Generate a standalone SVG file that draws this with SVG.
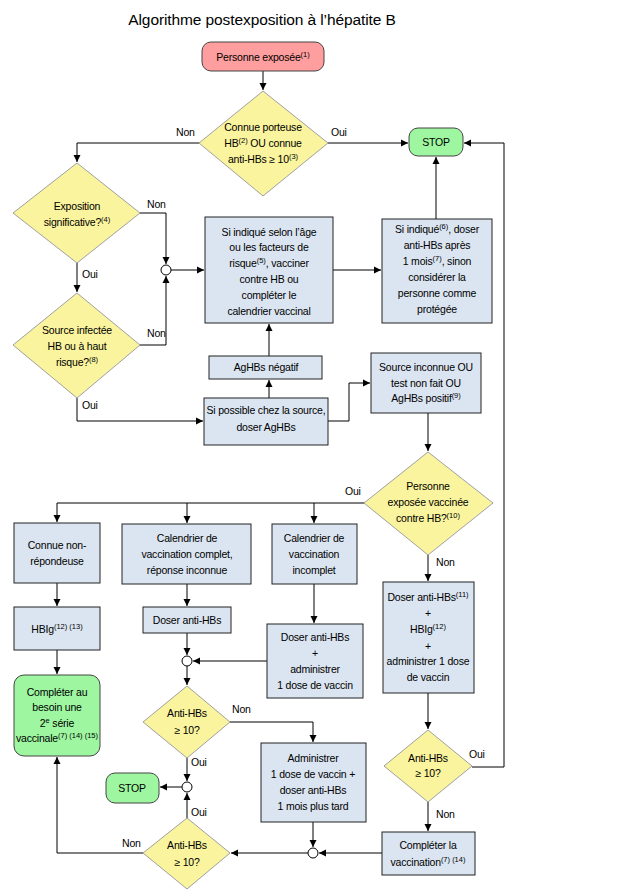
<svg xmlns="http://www.w3.org/2000/svg" width="617" height="896" viewBox="0 0 617 896">
<defs>
<marker id="ah" markerWidth="8" markerHeight="8" refX="7" refY="4" orient="auto" markerUnits="userSpaceOnUse">
<path d="M0,0.5 L7,4 L0,7.5 Z" fill="#000"/>
</marker>
<style>
text{font-family:"Liberation Sans",Arial,sans-serif;font-size:10.5px;letter-spacing:-0.2px;fill:#000;text-anchor:middle}
.title{font-size:15.5px;letter-spacing:-0.1px}
.lbl{text-anchor:start}
.box{fill:#dbe5f1;stroke:#222;stroke-width:1}
.dia{fill:#faf49e;stroke:#a0a0a0;stroke-width:1}
.pink{fill:#ff9e9e;stroke:#444;stroke-width:1}
.green{fill:#9ef7a0;stroke:#444;stroke-width:1}
.jn{fill:#fff;stroke:#000;stroke-width:1}
.c{fill:none;stroke:#000;stroke-width:1;marker-end:url(#ah)}
.cn{fill:none;stroke:#000;stroke-width:1}
.sup{font-size:7.5px;letter-spacing:0}
</style>
</defs>
<rect width="617" height="896" fill="#fff"/>
<text class="title" x="262" y="25">Algorithme postexposition à l’hépatite B</text>

<g id="connectors">
<path class="c" d="M263,71 V90"/>
<path class="c" d="M199,143 H77 V162"/>
<path class="c" d="M328,143 H408"/>
<path class="c" d="M472,767 H504 V143 H464"/>
<path class="c" d="M436,219 V157"/>
<path class="c" d="M140,213 H166 V264"/>
<path class="c" d="M77,263 V292"/>
<path class="c" d="M140,345 H166 V276"/>
<path class="c" d="M77,398 V421 H203"/>
<path class="c" d="M171,270 H204"/>
<path class="c" d="M333,270 H381"/>
<path class="c" d="M269,356 V324"/>
<path class="c" d="M269,398 V380"/>
<path class="c" d="M328,421 H349 V383 H370"/>
<path class="c" d="M428,413 V451"/>
<path class="cn" d="M364,503 H57"/>
<path class="c" d="M57,503 V522"/>
<path class="c" d="M187,503 V523"/>
<path class="c" d="M314,503 V523"/>
<path class="c" d="M57,583 V606"/>
<path class="c" d="M57,650 V674"/>
<path class="c" d="M187,584 V606"/>
<path class="c" d="M187,633 V655"/>
<path class="c" d="M314,584 V623"/>
<path class="c" d="M267,661 H193"/>
<path class="c" d="M187,666 V685"/>
<path class="c" d="M230,722 H313 V742"/>
<path class="c" d="M187,758 V781"/>
<path class="c" d="M182,787 H160"/>
<path class="c" d="M187,818 V793"/>
<path class="c" d="M143,853 H57 V757"/>
<path class="c" d="M313,822 V847"/>
<path class="c" d="M308,853 H231"/>
<path class="c" d="M382,853 H319"/>
<path class="c" d="M428,555 V581"/>
<path class="c" d="M428,693 V729"/>
<path class="c" d="M428,802 V831"/>
<text class="lbl" x="176" y="136">Non</text>
<text class="lbl" x="331" y="136">Oui</text>
<text class="lbl" x="147" y="208">Non</text>
<text class="lbl" x="82" y="278">Oui</text>
<text class="lbl" x="147" y="337">Non</text>
<text class="lbl" x="82" y="409">Oui</text>
<text class="lbl" x="345" y="495">Oui</text>
<text class="lbl" x="436" y="566">Non</text>
<text class="lbl" x="232" y="713">Non</text>
<text class="lbl" x="191" y="766">Oui</text>
<text class="lbl" x="191" y="816">Oui</text>
<text class="lbl" x="122" y="847">Non</text>
<text class="lbl" x="469" y="758">Oui</text>
<text class="lbl" x="436" y="818">Non</text>
</g>

<g id="n-start">
<rect class="pink" x="202" y="42" width="122" height="29" rx="9"/>
<text x="263" y="61">Personne exposée<tspan class="sup" dy="-4">(1)</tspan></text>
</g>
<g id="n-connue">
<polygon class="dia" points="263,91 328,143 263,196 199,143"/>
<text x="263" y="131">Connue porteuse</text>
<text x="263" y="147">HB<tspan class="sup" dy="-4">(2)</tspan><tspan dy="4"> OU connue</tspan></text>
<text x="263" y="163">anti-HBs ≥ 10<tspan class="sup" dy="-4">(3)</tspan></text>
</g>
<g id="n-stop1">
<rect class="green" x="409" y="128" width="54" height="28" rx="9"/>
<text x="436" y="146">STOP</text>
</g>
<g id="n-exposition">
<polygon class="dia" points="77,163 140,213 77,263 13,213"/>
<text x="77" y="210">Exposition</text>
<text x="77" y="226">significative?<tspan class="sup" dy="-4">(4)</tspan></text>
</g>
<g id="n-source">
<polygon class="dia" points="77,293 140,345 77,398 13,345"/>
<text x="77" y="334">Source infectée</text>
<text x="77" y="350">HB ou à haut</text>
<text x="77" y="366">risque?<tspan class="sup" dy="-4">(8)</tspan></text>
</g>
<g id="j1"><circle class="jn" cx="166" cy="270" r="5"/></g>
<g id="n-vacciner">
<rect class="box" x="205" y="217" width="128" height="106"/>
<text x="269" y="236">Si indiqué selon l’âge</text>
<text x="269" y="251">ou les facteurs de</text>
<text x="269" y="267">risque<tspan class="sup" dy="-4">(5)</tspan><tspan dy="4">, vacciner</tspan></text>
<text x="269" y="283">contre HB ou</text>
<text x="269" y="299">compléter le</text>
<text x="269" y="315">calendrier vaccinal</text>
</g>
<g id="n-siindique">
<rect class="box" x="382" y="219" width="110" height="104"/>
<text x="437" y="233">Si indiqué<tspan class="sup" dy="-4">(6)</tspan><tspan dy="4">, doser</tspan></text>
<text x="437" y="249">anti-HBs après</text>
<text x="437" y="265">1 mois<tspan class="sup" dy="-4">(7)</tspan><tspan dy="4">, sinon</tspan></text>
<text x="437" y="281">considérer la</text>
<text x="437" y="297">personne comme</text>
<text x="437" y="313">protégée</text>
</g>
<g id="n-negatif">
<rect class="box" x="209" y="356" width="113" height="23"/>
<text x="266" y="371">AgHBs négatif</text>
</g>
<g id="n-doseragh">
<rect class="box" x="204" y="398" width="124" height="47"/>
<text x="266" y="414">Si possible chez la source,</text>
<text x="266" y="431">doser AgHBs</text>
</g>
<g id="n-inconnue">
<rect class="box" x="371" y="353" width="110" height="60"/>
<text x="426" y="371">Source inconnue OU</text>
<text x="426" y="387">test non fait OU</text>
<text x="426" y="402">AgHBs positif<tspan class="sup" dy="-4">(9)</tspan></text>
</g>
<g id="n-vaccinee">
<polygon class="dia" points="428,452 493,503 428,555 364,503"/>
<text x="428" y="490">Personne</text>
<text x="428" y="506">exposée vaccinée</text>
<text x="428" y="522">contre HB?<tspan class="sup" dy="-4">(10)</tspan></text>
</g>
<g id="n-nonrep">
<rect class="box" x="14" y="523" width="86" height="60"/>
<text x="57" y="549">Connue non-</text>
<text x="57" y="565">répondeuse</text>
</g>
<g id="n-complet">
<rect class="box" x="122" y="524" width="129" height="60"/>
<text x="187" y="542">Calendrier de</text>
<text x="187" y="558">vaccination complet,</text>
<text x="187" y="574">réponse inconnue</text>
</g>
<g id="n-incomplet">
<rect class="box" x="272" y="524" width="85" height="60"/>
<text x="314" y="542">Calendrier de</text>
<text x="314" y="558">vaccination</text>
<text x="314" y="574">incomplet</text>
</g>
<g id="n-hbig">
<rect class="box" x="14" y="607" width="86" height="43"/>
<text x="57" y="633">HBIg<tspan class="sup" dy="-4">(12) (13)</tspan></text>
</g>
<g id="n-serie">
<rect class="green" x="14" y="675" width="86" height="81" rx="10"/>
<text x="57" y="696">Compléter au</text>
<text x="57" y="711">besoin une</text>
<text x="57" y="727">2<tspan class="sup" dy="-4">e</tspan><tspan dy="4"> série</tspan></text>
<text x="57" y="742">vaccinale<tspan class="sup" dy="-4">(7) (14) (15)</tspan></text>
</g>
<g id="n-doser1">
<rect class="box" x="143" y="607" width="88" height="26"/>
<text x="187" y="624">Doser anti-HBs</text>
</g>
<g id="n-doser2">
<rect class="box" x="267" y="624" width="96" height="74"/>
<text x="315" y="641">Doser anti-HBs</text>
<text x="315" y="657">+</text>
<text x="315" y="673">administrer</text>
<text x="315" y="689">1 dose de vaccin</text>
</g>
<g id="j2"><circle class="jn" cx="187" cy="661" r="5"/></g>
<g id="n-anti1">
<polygon class="dia" points="187,686 230,722 187,758 143,722"/>
<text x="187" y="717">Anti-HBs</text>
<text x="187" y="734">≥ 10?</text>
</g>
<g id="n-administrer">
<rect class="box" x="261" y="743" width="105" height="79"/>
<text x="313" y="762">Administrer</text>
<text x="313" y="778">1 dose de vaccin +</text>
<text x="313" y="794">doser anti-HBs</text>
<text x="313" y="810">1 mois plus tard</text>
</g>
<g id="j3"><circle class="jn" cx="187" cy="787" r="5"/></g>
<g id="n-stop2">
<rect class="green" x="106" y="773" width="53" height="30" rx="9"/>
<text x="132" y="792">STOP</text>
</g>
<g id="n-anti2">
<polygon class="dia" points="187,818 230,853 187,889 143,853"/>
<text x="187" y="849">Anti-HBs</text>
<text x="187" y="866">≥ 10?</text>
</g>
<g id="j4"><circle class="jn" cx="313" cy="853" r="5"/></g>
<g id="n-doser3">
<rect class="box" x="383" y="582" width="91" height="111"/>
<text x="428" y="601">Doser anti-HBs<tspan class="sup" dy="-4">(11)</tspan></text>
<text x="428" y="617">+</text>
<text x="428" y="633">HBIg<tspan class="sup" dy="-4">(12)</tspan></text>
<text x="428" y="650">+</text>
<text x="428" y="665">administrer 1 dose</text>
<text x="428" y="681">de vaccin</text>
</g>
<g id="n-anti3">
<polygon class="dia" points="428,730 472,766 428,802 384,766"/>
<text x="428" y="762">Anti-HBs</text>
<text x="428" y="777">≥ 10?</text>
</g>
<g id="n-completer">
<rect class="box" x="382" y="832" width="93" height="43"/>
<text x="428" y="849">Compléter la</text>
<text x="428" y="866">vaccination<tspan class="sup" dy="-4">(7) (14)</tspan></text>
</g>
</svg>
